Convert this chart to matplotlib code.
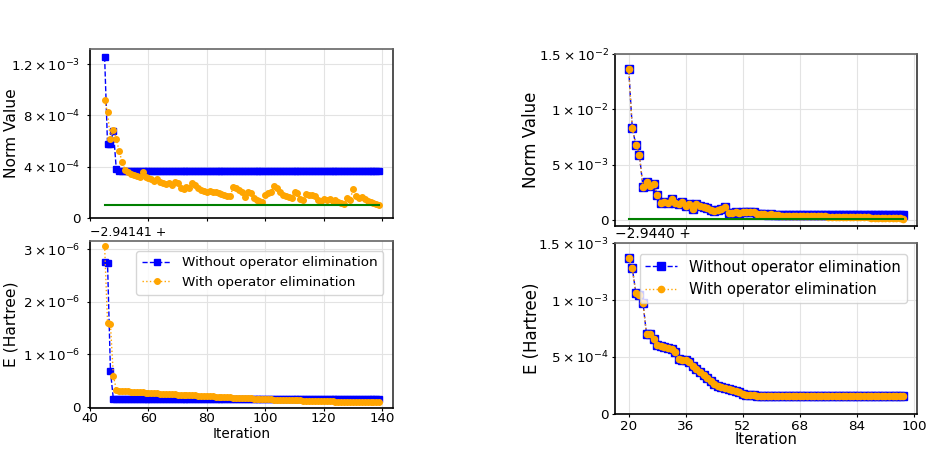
import numpy as np
import matplotlib
matplotlib.use("Agg")
import matplotlib.pyplot as plt
from matplotlib.ticker import FuncFormatter, MultipleLocator

# ---- left run (iterations 45..139) ----
left_start = 45
norm_without_l = [12.57, 5.75, 5.80, 6.80, 3.80] + [3.66] * 90  # x 1e-4
norm_with_l = [9.16, 8.23, 6.12, 6.89, 6.17, 5.19, 4.36, 3.74, 3.59, 3.41,
               3.33, 3.25, 3.17, 3.56, 3.23, 3.12, 3.02, 2.92, 3.07, 2.84,
               2.76, 2.66, 2.71, 2.58, 2.84, 2.71, 2.32, 2.25, 2.45, 2.37,
               2.71, 2.58, 2.32, 2.19, 2.12, 2.06, 2.14, 2.06, 2.01, 1.94,
               1.86, 1.78, 1.73, 1.68, 2.45, 2.32, 2.19, 1.99, 1.63, 2.06,
               1.94, 1.55, 1.42, 1.29, 1.26, 1.81, 1.94, 2.06, 2.50, 2.32,
               1.99, 1.81, 1.73, 1.63, 1.55, 2.06, 1.94, 1.47, 1.37, 1.88,
               1.81, 1.78, 1.68, 1.42, 1.34, 1.47, 1.42, 1.47, 1.29, 1.42,
               1.26, 1.16, 1.06, 1.55, 1.37, 2.25, 1.68, 1.52, 1.63, 1.47,
               1.34, 1.21, 1.16, 1.06, 1.01]
energy_without_l = [2.76, 2.74, 0.68] + [0.147] * 92  # x 1e-6, offset -2.94141
energy_with_l = [3.07, 1.60, 1.57, 0.59, 0.33,
                 0.310, 0.303, 0.298, 0.294, 0.290, 0.286, 0.282, 0.278, 0.274, 0.270, 0.265,
                 0.262, 0.259, 0.256, 0.253, 0.250, 0.247, 0.244, 0.241, 0.238, 0.235,
                 0.232, 0.229, 0.226, 0.223, 0.220, 0.217, 0.214, 0.211, 0.208, 0.205,
                 0.202, 0.199, 0.196, 0.193, 0.190, 0.187, 0.184, 0.181, 0.178, 0.175,
                 0.172, 0.169, 0.166, 0.163, 0.160, 0.157, 0.154, 0.151, 0.148, 0.145,
                 0.143, 0.141, 0.139, 0.137, 0.135, 0.133, 0.131, 0.129, 0.127, 0.125,
                 0.123, 0.121, 0.119, 0.117, 0.115, 0.113, 0.111, 0.109, 0.107, 0.105,
                 0.104, 0.103, 0.102, 0.101, 0.100, 0.099, 0.098, 0.097, 0.096, 0.095,
                 0.094, 0.093, 0.092, 0.091, 0.090, 0.089, 0.088, 0.087, 0.086]

# ---- right run (iterations 20..97) ----
right_start = 20
norm_shared_r = [13.62, 8.28, 6.81, 5.84, 3.00, 3.43, 3.07, 3.25, 2.23, 1.57,
                 1.60, 1.50, 1.87, 1.57, 1.45, 1.60, 1.30, 1.42, 0.96, 1.40,
                 1.30, 1.20, 1.05, 0.93, 0.84, 0.90, 1.00, 1.20, 0.66, 0.65,
                 0.70, 0.62, 0.72, 0.68, 0.74, 0.70, 0.55, 0.50, 0.52, 0.48,
                 0.50]  # x 1e-3
norm_without_r = norm_shared_r + [0.42] * 37
norm_with_r = norm_shared_r + [0.40, 0.40, 0.39, 0.39, 0.38, 0.38, 0.37, 0.36, 0.36, 0.35,
                               0.34, 0.33, 0.33, 0.32, 0.31, 0.30, 0.30, 0.29, 0.28, 0.27,
                               0.27, 0.26, 0.25, 0.24, 0.23, 0.23, 0.22, 0.21, 0.20, 0.19,
                               0.18, 0.17, 0.16, 0.15, 0.14, 0.13, 0.12]
energy_r = [1.366, 1.279, 1.061, 1.047, 0.974, 0.698, 0.698, 0.654, 0.605, 0.600,
            0.587, 0.580, 0.570, 0.540, 0.483, 0.477, 0.470, 0.460, 0.425, 0.395,
            0.366, 0.343, 0.314, 0.288, 0.267, 0.250, 0.238, 0.230, 0.218, 0.209,
            0.203, 0.192, 0.174, 0.170, 0.166, 0.163, 0.160, 0.158] + [0.157] * 40  # x 1e-3, offset -2.9440
right_ticks = [20, 36, 52, 68, 84, 100]

threshold = 1e-4


def sci(v, pos):
    if abs(v) < 1e-15:
        return "0"
    e = int(np.floor(np.log10(abs(v)) + 1e-9))
    m = round(v / 10.0 ** e, 2)
    if abs(m - round(m)) < 1e-9:
        ms = "%d" % round(m)
    else:
        ms = ("%g" % m)
    return r"$%s\times10^{%d}$" % (ms, e)


def style(ax, fs, ypad, xpad):
    ax.grid(True, color="#e3e3e3", linewidth=0.8)
    ax.set_axisbelow(True)
    ax.spines["left"].set_color("black")
    ax.spines["bottom"].set_color("black")
    ax.spines["top"].set_color("#666666")
    ax.spines["right"].set_color("#333333")
    for s in ax.spines.values():
        s.set_linewidth(1.2)
    ax.tick_params(labelsize=fs, length=2.5, width=0.8)
    ax.tick_params(axis="y", pad=ypad)
    ax.tick_params(axis="x", pad=xpad)
    ax.yaxis.set_major_formatter(FuncFormatter(sci))


fig = plt.figure(figsize=(9.31, 4.49), dpi=100)
W, H = 931.0, 449.0


def box(x0, y0, x1, y1):
    return [x0 / W, 1 - y1 / H, (x1 - x0) / W, (y1 - y0) / H]


# left column
ax1 = fig.add_axes(box(90, 49, 393, 218))
ax2 = fig.add_axes(box(90, 241, 393, 408), sharex=ax1)
xl = np.arange(left_start, left_start + len(norm_with_l))
xlb = np.arange(left_start, left_start + len(norm_without_l))
ax1.plot(xlb, np.array(norm_without_l) * 1e-4, "--", color="blue", marker="s",
         markersize=5, linewidth=1)
ax1.plot(xl, np.array(norm_with_l) * 1e-4, ":", color="orange", marker="o",
         markersize=4, linewidth=1)
ax1.plot(xl, [threshold] * len(xl), color="green", linewidth=1.5)
ax1.set_ylim(0, 1.317e-3)
ax1.yaxis.set_major_locator(MultipleLocator(4e-4))
ax1.set_ylabel("Norm Value", fontsize=11.2)
ax1.yaxis.set_label_coords(-0.235, 0.5)
plt.setp(ax1.get_xticklabels(), visible=False)
style(ax1, 9.6, 4.5, 0.5)

xe = np.arange(left_start, left_start + len(energy_with_l))
xeb = np.arange(left_start, left_start + len(energy_without_l))
ax2.plot(xeb, np.array(energy_without_l) * 1e-6, "--", color="blue", marker="s",
         markersize=5, linewidth=1, label="Without operator elimination")
ax2.plot(xe, np.array(energy_with_l) * 1e-6, ":", color="orange", marker="o",
         markersize=4, linewidth=1, label="With operator elimination")
ax2.set_ylim(-0.022e-6, 3.16e-6)
ax2.set_xlim(40, 143.7)
ax2.yaxis.set_major_locator(MultipleLocator(1e-6))
ax2.xaxis.set_major_locator(MultipleLocator(20))
ax2.set_xlabel("Iteration", fontsize=9.8, labelpad=1)
ax2.set_ylabel("E (Hartree)", fontsize=11.2)
ax2.yaxis.set_label_coords(-0.235, 0.5)
ax2.text(0, 1.01, "\u22122.94141 +", transform=ax2.transAxes, fontsize=9,
         ha="left", va="bottom")
ax2.legend(loc="upper right", fontsize=9.7, handlelength=2.2,
           bbox_to_anchor=(0.99, 0.98))
style(ax2, 9.6, 4.5, 0.5)

# right column
ax3 = fig.add_axes(box(615, 54, 917, 226))
ax4 = fig.add_axes(box(615, 243, 917, 414), sharex=ax3)
xr = np.arange(right_start, right_start + len(norm_with_r))
xrb = np.arange(right_start, right_start + len(norm_without_r))
ax3.plot(xrb, np.array(norm_without_r) * 1e-3, "--", color="blue", marker="s",
         markersize=5.5, linewidth=1)
ax3.plot(xr, np.array(norm_with_r) * 1e-3, ":", color="orange", marker="o",
         markersize=4.5, linewidth=1)
ax3.plot(xr, [threshold] * len(xr), color="green", linewidth=1.5)
ax3.set_ylim(-0.00055, 0.0150)
ax3.yaxis.set_major_locator(MultipleLocator(5e-3))
ax3.set_ylabel("Norm Value", fontsize=12)
ax3.yaxis.set_label_coords(-0.248, 0.5)
plt.setp(ax3.get_xticklabels(), visible=False)
style(ax3, 9.7, 2, 2)

xre = np.arange(right_start, right_start + len(energy_r))
ax4.plot(xre, np.array(energy_r) * 1e-3, "--", color="blue", marker="s",
         markersize=5.5, linewidth=1, label="Without operator elimination")
ax4.plot(xre, np.array(energy_r) * 1e-3, ":", color="orange", marker="o",
         markersize=4.5, linewidth=1, label="With operator elimination")
ax4.set_ylim(0, 1.5e-3)
ax4.set_xticks(right_ticks)
ax4.set_xlim(16.15, 100.85)
ax4.yaxis.set_major_locator(MultipleLocator(5e-4))
ax4.set_xlabel("Iteration", fontsize=10.6, labelpad=-1)
ax4.set_ylabel("E (Hartree)", fontsize=12)
ax4.yaxis.set_label_coords(-0.245, 0.5)
ax4.text(0, 1.01, "\u22122.9440 +", transform=ax4.transAxes, fontsize=10,
         ha="left", va="bottom")
ax4.legend(loc="upper right", fontsize=10.5, handlelength=2.2,
           bbox_to_anchor=(0.99, 0.98))
style(ax4, 9.7, 2, 2)

fig.savefig("out.png", dpi=100)
